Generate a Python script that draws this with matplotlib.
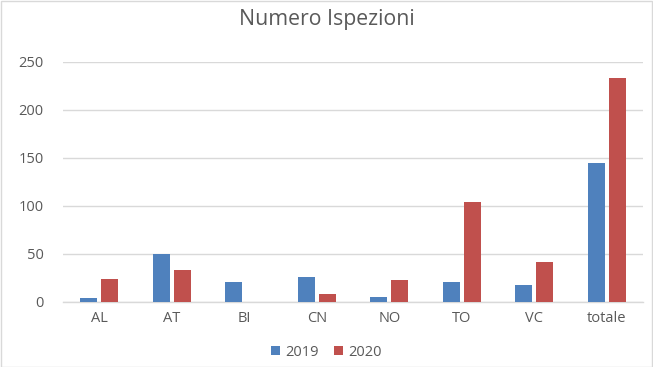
import matplotlib
matplotlib.use("Agg")
import matplotlib.pyplot as plt
import numpy as np
from matplotlib.patches import Rectangle

categories = ["AL", "AT", "BI", "CN", "NO", "TO", "VC", "totale"]
series_names = ["2019", "2020"]
values_2019 = [4, 50, 21, 26, 5, 21, 17, 144]
values_2020 = [24, 33, 0, 8, 23, 104, 41, 233]
yticks = [0, 50, 100, 150, 200, 250]

plt.rcParams['font.family'] = ['Open Sans', 'DejaVu Sans']
W, H = 653, 367
fig = plt.figure(figsize=(W/100, H/100), dpi=100)
fig.patch.set_facecolor('white')
fig.patches.append(Rectangle((0.5/W, 0.5/H), 1-1.5/W, 1-1.5/H, transform=fig.transFigure,
                             fill=False, edgecolor='#D9D9D9', linewidth=1))

left, right, top, bottom = 63, 643, 61.7, 301.7
ax = fig.add_axes([left/W, 1-bottom/H, (right-left)/W, (bottom-top)/H])

x = np.arange(len(categories))
bw = 0.23
off = 0.145
b1 = ax.bar(x - off, values_2019, bw, color='#4F81BD', label=series_names[0], zorder=3)
b2 = ax.bar(x + off, values_2020, bw, color='#C0504D', label=series_names[1], zorder=3)

ax.set_xlim(-0.5, len(categories) - 0.5)
ax.set_ylim(0, 250)
ax.set_yticks(yticks)
ax.set_xticks(x)
ax.set_xticklabels(categories)
ax.grid(axis='y', color='#D9D9D9', linewidth=1, zorder=0)
for s in ['top', 'right', 'left']:
    ax.spines[s].set_visible(False)
ax.spines['bottom'].set_color('#D9D9D9')
ax.spines['bottom'].set_linewidth(1)
ax.tick_params(axis='both', length=0, colors='#595959', labelsize=10.5)
ax.tick_params(axis='y', pad=14)
ax.tick_params(axis='x', pad=7)
ax.set_facecolor('white')

fig.text(0.5, 1-20/H, "Numero Ispezioni", ha='center', va='center', fontsize=15.3, color='#595959')

leg = fig.legend(handles=[b1, b2], labels=series_names, loc='center', bbox_to_anchor=(0.5, 1-352/H),
                 ncol=2, frameon=False, fontsize=10.5, handlelength=0.6, handleheight=0.6,
                 handletextpad=0.4, columnspacing=1.0, labelcolor='#595959')

fig.savefig("out.png", dpi=100, facecolor='white')
